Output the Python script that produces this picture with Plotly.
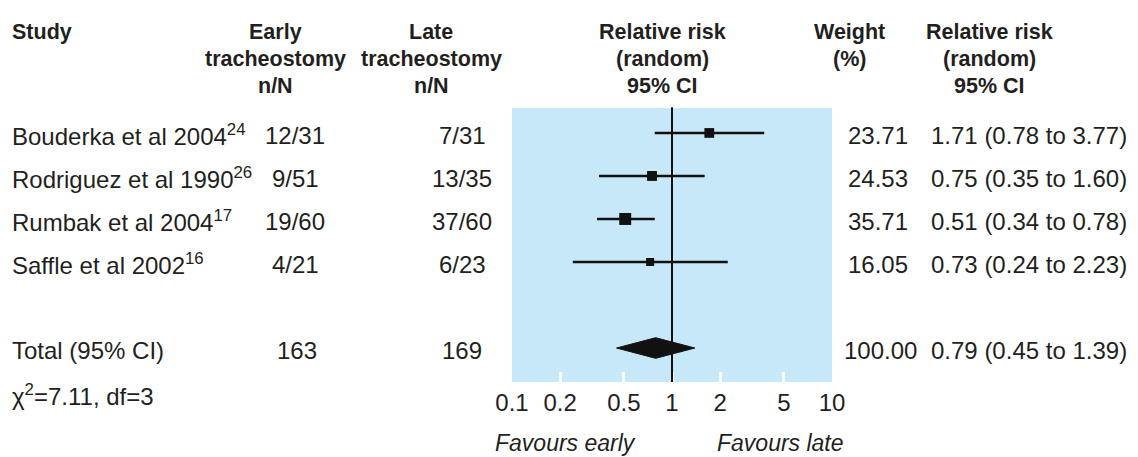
import plotly.graph_objects as go

# ---------------- data ----------------
studies = ["Bouderka et al 2004", "Rodriguez et al 1990", "Rumbak et al 2004", "Saffle et al 2002"]
refs = ["24", "26", "17", "16"]
early_nN = ["12/31", "9/51", "19/60", "4/21"]
late_nN = ["7/31", "13/35", "37/60", "6/23"]
weights = [23.71, 24.53, 35.71, 16.05]
rr = [1.71, 0.75, 0.51, 0.73]
rr_lo = [0.78, 0.35, 0.34, 0.24]
rr_hi = [3.77, 1.60, 0.78, 2.23]

total_label = "Total (95% CI)"
total_early = 163
total_late = 169
total_weight = 100.00
total_rr = 0.79
total_lo = 0.45
total_hi = 1.39
chi2 = 7.11
df = 3

tick_vals = [0.1, 0.2, 0.5, 1, 2, 5, 10]
tick_text = ["0.1", "0.2", "0.5", "1", "2", "5", "10"]

# ---------------- layout helpers ----------------
W, H = 1138, 457
L, R, T, B = 512, 832, 108, 382
TOTAL_ROW = 5

def px(x):
    return (x - L) / (R - L)

def py(y):
    return (B - y) / (B - T)

BODY = "Liberation Sans, Arial, Helvetica, sans-serif"
HEAD = "Liberation Sans, Arial, Helvetica, sans-serif"
TXT = "#231f20"
MARK = "#111111"

fig = go.Figure()

# confidence interval lines + squares
for i in range(len(studies)):
    fig.add_trace(go.Scatter(x=[rr_lo[i], rr_hi[i]], y=[i, i], mode="lines",
                             line=dict(color=MARK, width=2.5),
                             hoverinfo="skip", showlegend=False))
fig.add_trace(go.Scatter(x=rr, y=list(range(len(studies))), mode="markers",
                         marker=dict(symbol="square", color=MARK, opacity=1,
                                     size=[2.0 * w ** 0.5 for w in weights],
                                     line=dict(width=0)),
                         showlegend=False))

# pooled diamond
dh = 0.24
fig.add_trace(go.Scatter(x=[total_lo, total_rr, total_hi, total_rr, total_lo],
                         y=[TOTAL_ROW, TOTAL_ROW - dh, TOTAL_ROW, TOTAL_ROW + dh, TOTAL_ROW],
                         mode="lines", fill="toself", fillcolor=MARK,
                         line=dict(color=MARK, width=1),
                         showlegend=False, hoverinfo="skip"))

# line of no effect
fig.add_shape(type="line", xref="x", yref="paper", x0=1, x1=1, y0=0, y1=1.003,
              line=dict(color="#111111", width=2))

ann = []

def body(text, x, y, xanchor="center", yref="y", italic=False, size=24):
    ann.append(dict(text=("<i>%s</i>" % text) if italic else text, x=px(x), xref="paper",
                    y=y, yref=yref, xanchor=xanchor, yanchor="middle", showarrow=False,
                    font=dict(family=BODY, size=size, color=TXT)))

def head(lines, x, xanchor="center"):
    ys = [32, 59, 86]
    for k, t in enumerate(lines):
        ann.append(dict(text="<b>%s</b>" % t, x=px(x), xref="paper", y=py(ys[k]), yref="paper",
                        xanchor=xanchor, yanchor="middle", showarrow=False,
                        font=dict(family=HEAD, size=21.5, color=TXT)))

head(["Study"], 10, "left")
head(["Early", "tracheostomy", "n/N"], 275)
head(["Late", "tracheostomy", "n/N"], 431)
head(["Relative risk", "(random)", "95% CI"], 662)
head(["Weight", "(%)"], 849)
head(["Relative risk", "(random)", "95% CI"], 989)

for i in range(len(studies)):
    yy = i + 0.05
    body("%s<sup>%s</sup>" % (studies[i], refs[i]), 10, yy, "left")
    body(early_nN[i], 295, yy)
    body(late_nN[i], 462, yy)
    body("%.2f" % weights[i], 878, yy)
    body("%.2f (%.2f to %.2f)" % (rr[i], rr_lo[i], rr_hi[i]), 929, yy, "left")

yt = TOTAL_ROW + 0.05
body(total_label, 10, yt, "left")
body(str(total_early), 297, yt)
body(str(total_late), 462, yt)
body("%.2f" % total_weight, 880, yt)
body("%.2f (%.2f to %.2f)" % (total_rr, total_lo, total_hi), 929, yt, "left")
body("χ<sup>2</sup>=%.2f, df=%d" % (chi2, df), 10, py(395), "left", yref="paper")

body("Favours early", 565, py(443), yref="paper", italic=True, size=23)
body("Favours late", 780, py(443), yref="paper", italic=True, size=23)

fig.update_layout(
    width=W, height=H,
    margin=dict(l=L, r=W - R, t=T, b=H - B, pad=0),
    paper_bgcolor="white", plot_bgcolor="#c6e8f9",
    showlegend=False, annotations=ann,
    xaxis=dict(type="log", range=[-1, 1], tickvals=tick_vals, ticktext=tick_text,
               ticks="inside", ticklen=10, tickwidth=3, tickcolor="white",
               showgrid=False, zeroline=False, showline=False,
               tickfont=dict(family=BODY, size=24, color=TXT), ticklabelstandoff=4),
    yaxis=dict(range=[5.79, -0.58], visible=False, showgrid=False, zeroline=False),
)

fig.write_html("out.html", config={"displayModeBar": False},
               post_script="document.body.style.margin='0';document.body.style.overflow='hidden';")
